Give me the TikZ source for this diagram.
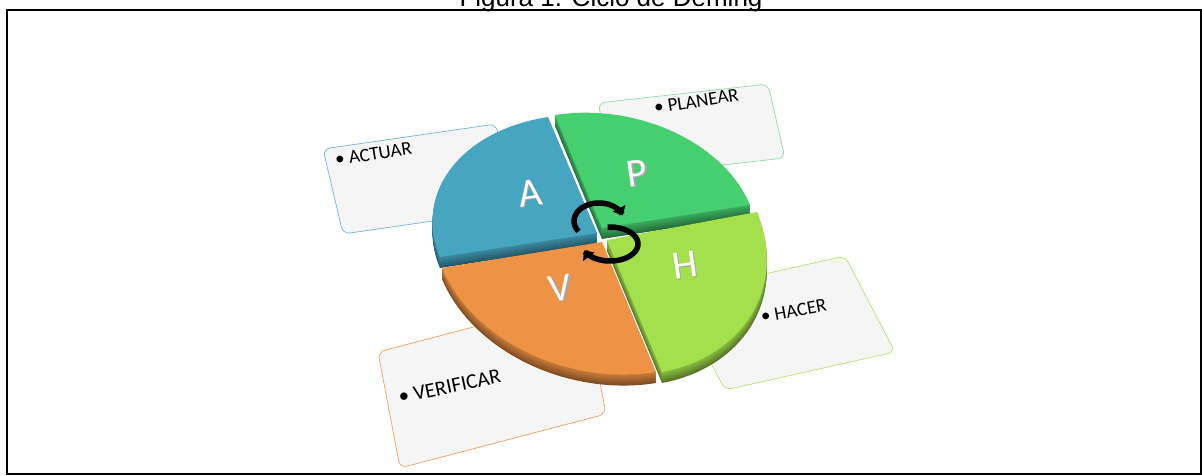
\documentclass[tikz,border=0pt]{standalone}
\usepackage{fontspec}
\setmainfont{Carlito}
\newfontfamily\titlefont{Liberation Sans}
\usetikzlibrary{arrows.meta}
\definecolor{Acol}{RGB}{70,165,193}
\definecolor{Pcol}{RGB}{69,207,111}
\definecolor{Hcol}{RGB}{163,224,75}
\definecolor{Vcol}{RGB}{238,146,69}
\definecolor{Aline}{RGB}{110,185,212}
\definecolor{Pline}{RGB}{140,222,160}
\definecolor{Hline}{RGB}{180,228,105}
\definecolor{Vline}{RGB}{240,160,95}
\definecolor{cardfill}{RGB}{245,245,245}
\newcommand\slab[7]{%
  \foreach \d in {11,...,1}{%
    \pgfmathtruncatemacro\m{86-3*\d}%
    \fill[#1!\m!black, shift={(0,\d)}] (#2,#3) -- plot[domain=0:90,samples=45,variable=\t] ({#2+(#4)*cos(\t)+(#6)*sin(\t)},{#3+(#5)*cos(\t)+(#7)*sin(\t)}) -- cycle;}%
  \fill[#1] (#2,#3) -- plot[domain=0:90,samples=45,variable=\t] ({#2+(#4)*cos(\t)+(#6)*sin(\t)},{#3+(#5)*cos(\t)+(#7)*sin(\t)}) -- cycle;}
\tikzset{
  card/.style={fill=cardfill, line width=0.7pt, rounded corners=7pt},
  cardtext/.style={anchor=base west, inner sep=0pt, font=\fontsize{19}{21}\selectfont},
  bigletter/.style={text=white, inner sep=0pt, font=\fontsize{40}{44}\selectfont, rotate=8},
  bigshadow/.style={text=black!35, inner sep=0pt, font=\fontsize{40}{44}\selectfont, rotate=8},
  cycarrow/.style={line width=5.5pt, {Triangle[length=8pt,width=14pt]}-}
}
\begin{document}
\begin{tikzpicture}[x=1pt,y=-1pt]
\useasboundingbox (0,0) rectangle (1202,476);
% title and frame
\node[font=\titlefont\fontsize{26}{30}\selectfont, anchor=base, inner sep=0pt] (title) at (611,7) {Figura 1. Ciclo de Deming};
\draw[line width=2pt] (7,10) rectangle (1200.5,474);
% cards
\draw[card, draw=Aline] (323,149) -- (496,124) -- (516,209) -- (343,234) -- cycle;
\draw[card, draw=Pline] (598,103) -- (768,84) -- (785,158) -- (615,177) -- cycle;
\draw[card, draw=Hline] (675,294) -- (845,256) -- (895,352) -- (725,390) -- cycle;
\draw[card, draw=Vline] (378,352) -- (584,298) -- (606,414) -- (400,468) -- cycle;
\node[cardtext, rotate=9] (tA) at (336,166) {\textbullet\ ACTUAR};
\node[cardtext, rotate=9] (tP) at (655,114) {\textbullet\ PLANEAR};
\node[cardtext, rotate=10.5] (tH) at (762,323) {\textbullet\ HACER};
\node[cardtext, rotate=12, font=\fontsize{21}{23}\selectfont] (tV) at (400,404) {\textbullet\ VERIFICAR};
% pie slabs
\slab{Acol}{597}{233}{-49}{-116}{-157}{24}
\slab{Pcol}{602}{228}{-47}{-113}{148}{-23}
\slab{Vcol}{602}{242}{-160}{26}{54}{130}
\slab{Hcol}{607}{240}{150}{-28}{55}{132}
% letters
\node[bigshadow] (Ash) at (531.5,194.5) {A};
\node[bigletter] (A) at (530,193) {A};
\node[bigshadow] (Psh) at (638.5,174.5) {P};
\node[bigletter] (P) at (637,173) {P};
\node[bigshadow] (Hsh) at (686.5,266.5) {H};
\node[bigletter] (H) at (685,265) {H};
\node[bigshadow] (Vsh) at (561.5,289.5) {V};
\node[bigletter] (V) at (560,288) {V};
% cycle arrows
\draw[cycarrow] plot[domain=18:215,samples=40,variable=\t] ({599+25*cos(\t)},{221-18*sin(\t)});
\draw[cycarrow] plot[domain=-158:95,samples=50,variable=\t] ({610+28*cos(\t)},{244-17*sin(\t)});
\end{tikzpicture}
\end{document}
